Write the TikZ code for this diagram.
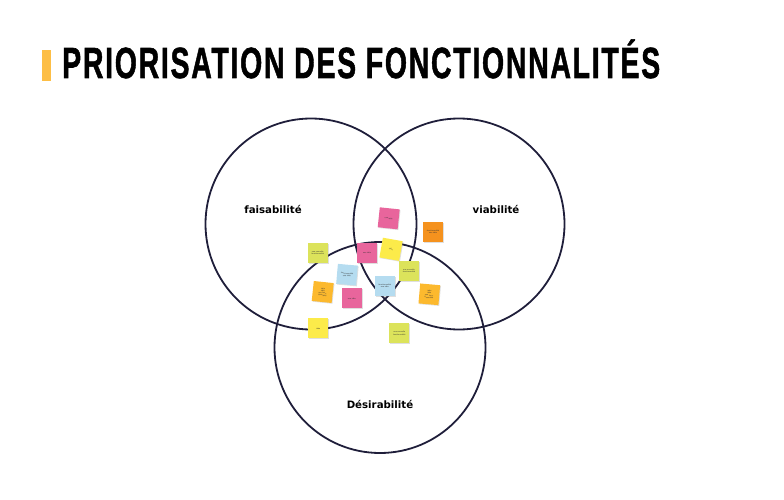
\documentclass[tikz,border=0pt]{standalone}
\usepackage{fontspec}
\usepackage{graphicx}
\usetikzlibrary{shadows}
\newfontfamily\titlefont{Liberation Sans}[BoldFont={Liberation Sans Bold}, BoldFeatures={FakeBold=1.5, LetterSpace=6}]
\newfontfamily\labelfont{DejaVu Sans}
\definecolor{ink}{HTML}{1F1E3A}
\definecolor{titleink}{HTML}{231F1C}
\definecolor{barcol}{HTML}{FDBE45}
\definecolor{notepink}{HTML}{E8659C}
\definecolor{noteorange}{HTML}{F5921E}
\definecolor{noteyellow}{HTML}{FCEB4A}
\definecolor{notegreen}{HTML}{DCE35B}
\definecolor{noteblue}{HTML}{B5DCF0}
\definecolor{noteamber}{HTML}{FCB92E}
\newsavebox\mytitlebox
\sbox\mytitlebox{\titlefont\bfseries\fontsize{43.6}{44}\selectfont PRIORISATION DES FONCTIONNALITÉS}
\tikzset{
  venn/.style={draw=ink, line width=1.8pt},
  setlabel/.style={font=\labelfont\bfseries\fontsize{10.2}{12}\selectfont, text=black},
  sticky/.style={fill=#1, minimum width=20pt, minimum height=20pt, inner sep=0pt,
    drop shadow={shadow xshift=0.8pt, shadow yshift=-0.8pt, opacity=0.25},
    font=\labelfont\fontsize{1.8}{2.2}\selectfont, text=black!80, align=center, text width=16pt}
}
\begin{document}
\begin{tikzpicture}[x=1pt, y=-1pt]
\useasboundingbox (0,0) rectangle (784,500);
% title
\node[fill=barcol, minimum width=9pt, minimum height=31pt, inner sep=0pt] (bar) at (46.2,65.3) {};
\node[anchor=base west, inner sep=0pt, text=titleink] (title) at (62,78)
  {\resizebox{598pt}{\height}{\usebox\mytitlebox}};
% circles
\node[venn, circle, minimum size=211pt, inner sep=0pt] (faisa) at (311,224) {};
\node[venn, circle, minimum size=211pt, inner sep=0pt] (viab) at (459,224) {};
\node[venn, circle, minimum size=211pt, inner sep=0pt] (desir) at (380,347.5) {};
\node[setlabel] (lfaisa) at (273,209) {faisabilité};
\node[setlabel] (lviab) at (496,209) {viabilité};
\node[setlabel] (ldesir) at (380,404) {Désirabilité};
% sticky notes
\node[sticky=notepink, rotate=-6] (n1) at (388.7,218.3) {une idée};
\node[sticky=noteorange] (n2) at (433,231.7) {fonctionnalité\\ une idée};
\node[sticky=notegreen] (n3) at (317.7,252.7) {une nouvelle\\ fonctionnalité};
\node[sticky=notepink] (n4) at (367,252.7) {une idée};
\node[sticky=noteyellow, rotate=-10] (n5) at (391,249.3) {idée};
\node[sticky=notegreen] (n6) at (409,270.7) {une nouvelle\\ fonctionnalité};
\node[sticky=noteblue, rotate=-5] (n7) at (347,274.7) {fonctionnalité\\ une idée};
\node[sticky=noteblue] (n8) at (384.7,285.7) {fonctionnalité\\ une idée};
\node[sticky=noteamber, rotate=-6] (n9) at (322.7,292) {idée\\ idée\\ une fonctionnalité};
\node[sticky=notepink] (n10) at (351.7,298.3) {une idée};
\node[sticky=noteamber, rotate=-5] (n11) at (429.3,294.3) {idée\\ idée\\ une fonctionnalité};
\node[sticky=noteyellow] (n12) at (318.3,328.3) {idée};
\node[sticky=notegreen] (n13) at (399.3,333.3) {une nouvelle\\ fonctionnalité};
\end{tikzpicture}
\end{document}
